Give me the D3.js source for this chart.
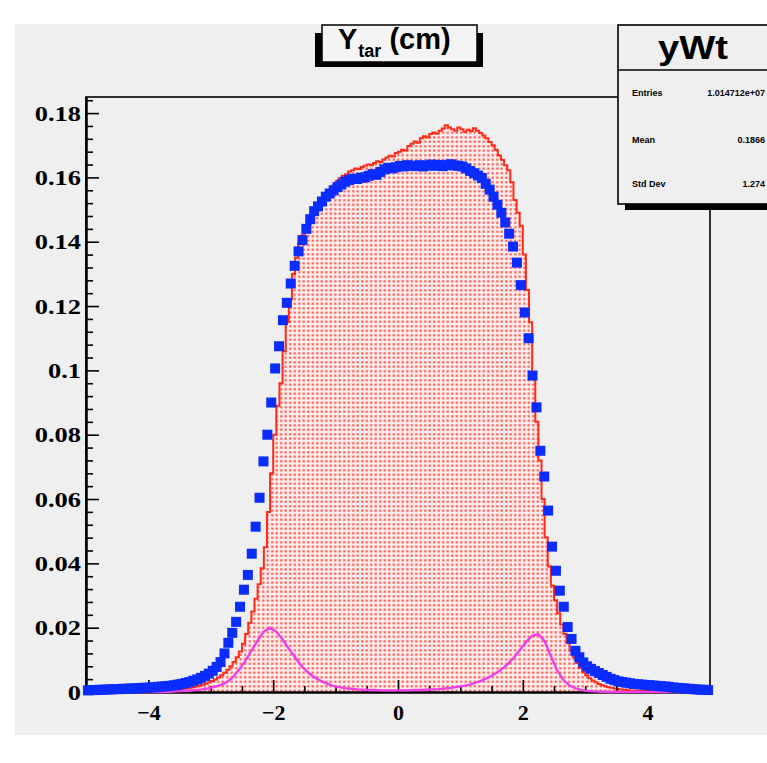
<!DOCTYPE html>
<html><head><meta charset="utf-8">
<script src="https://cdn.jsdelivr.net/npm/d3@7"></script>
<style>body{margin:0;background:#fff}</style>
</head><body><svg id="c" width="767" height="763"></svg>
<script>
// ---- data ----
const xRange = [-5, 5];
const yMax = 0.185;
// red filled histogram, 200 bins of 0.05 from -5 to 5
const redVals = [
0,0,0,0,0,0,0,0,0,0,
0.0001,0.0001,0.0001,0.0001,0.0001,0.0001,0.0001,0.0001,0.0002,0.0002,
0.0002,0.0003,0.0003,0.0004,0.0004,0.0005,0.0006,0.0006,0.0007,0.0008,
0.0009,0.0010,0.0011,0.0013,0.0015,0.0017,0.0020,0.0023,0.0026,0.0030,
0.0034,0.0039,0.0045,0.0052,0.0060,0.0069,0.0080,0.0093,0.0108,0.0126,
0.0150,0.0180,0.0215,0.0250,0.0290,0.0335,0.0385,0.0450,0.0560,0.0680,
0.0800,0.0890,0.0960,0.1060,0.1150,0.1220,0.1300,0.1350,0.1395,0.1420,
0.1440,0.1455,0.1470,0.1485,0.1500,0.1515,0.1530,0.1545,0.1560,0.1575,
0.1588,0.1598,0.1605,0.1610,0.1618,0.1622,0.1628,0.1626,0.1632,0.1636,
0.1640,0.1638,0.1645,0.1650,0.1648,0.1656,0.1662,0.1667,0.1665,0.1676,
0.1680,0.1686,0.1684,0.1698,0.1705,0.1712,0.1708,0.1722,0.1728,0.1724,
0.1735,0.1740,0.1736,0.1745,0.1752,0.1762,0.1755,0.1750,0.1745,0.1755,
0.1750,0.1742,0.1748,0.1744,0.1753,0.1745,0.1738,0.1730,0.1722,0.1710,
0.1700,0.1686,0.1668,0.1655,0.1638,0.1622,0.1585,0.1530,0.1490,0.1450,
0.1360,0.1250,0.1150,0.0980,0.0840,0.0720,0.0600,0.0480,0.0390,0.0330,
0.0285,0.0245,0.0210,0.0180,0.0152,0.0128,0.0108,0.0090,0.0075,0.0062,
0.0052,0.0043,0.0036,0.0030,0.0025,0.0021,0.0018,0.0015,0.0013,0.0011,
0.0009,0.0008,0.0007,0.0006,0.0005,0.0004,0.0004,0.0003,0.0003,0.0003,
0.0002,0.0002,0.0002,0.0002,0.0001,0.0001,0.0001,0.0001,0.0001,0.0001,
0.0001,0,0,0,0,0,0,0,0,0
];
// blue markers, 160 bins of 0.0625
const blueVals = [
0.0005,0.0006,0.0006,0.0007,0.0007,0.0008,0.0008,0.0009,0.0009,0.0010,
0.0010,0.0011,0.0011,0.0012,0.0013,0.0013,0.0014,0.0015,0.0016,0.0017,
0.0018,0.0019,0.0021,0.0023,0.0025,0.0028,0.0031,0.0035,0.0039,0.0044,
0.0050,0.0057,0.0066,0.0078,0.0093,0.0120,0.0153,0.0184,0.0218,0.0265,
0.0318,0.0364,0.0430,0.0514,0.0604,0.0717,0.0800,0.0900,0.1006,0.1075,
0.1156,0.1210,0.1270,0.1325,0.1370,0.1405,0.1440,0.1470,0.1495,0.1510,
0.1525,0.1540,0.1550,0.1560,0.1570,0.1578,0.1587,0.1592,0.1596,0.1595,
0.1599,0.1600,0.1605,0.1610,0.1608,0.1617,0.1625,0.1630,0.1628,0.1632,
0.1636,0.1634,0.1638,0.1636,0.1635,0.1638,0.1634,0.1637,0.1640,0.1636,
0.1639,0.1635,0.1638,0.1641,0.1637,0.1636,0.1634,0.1628,0.1620,0.1613,
0.1606,0.1598,0.1580,0.1562,0.1540,0.1515,0.1490,0.1460,0.1425,0.1385,
0.1335,0.1265,0.1180,0.1100,0.0984,0.0885,0.0750,0.0670,0.0564,0.0452,
0.0377,0.0315,0.0265,0.0202,0.0165,0.0128,0.0108,0.0092,0.0080,0.0072,
0.0065,0.0059,0.0053,0.0047,0.0041,0.0037,0.0033,0.0031,0.0029,0.0027,
0.0025,0.0024,0.0023,0.0022,0.0021,0.0020,0.0019,0.0018,0.0017,0.0016,
0.0014,0.0013,0.0012,0.0011,0.0010,0.0009,0.0008,0.0007,0.0007,0.0006
];
// magenta line, 100 bins of 0.1
const magVals = [
0,0,0,0,0,0,0,0,0,0,
0,0,0,0.0001,0.0002,0.0003,0.0004,0.0006,0.0008,0.0011,
0.0015,0.0021,0.0030,0.0045,0.0068,0.0095,0.0128,0.0160,0.0188,0.0200,
0.0188,0.0163,0.0135,0.0108,0.0082,0.0062,0.0047,0.0036,0.0027,0.0020,
0.0015,0.0012,0.0010,0.0008,0.0007,0.0006,0.0006,0.0005,0.0005,0.0005,
0.0005,0.0005,0.0006,0.0006,0.0007,0.0008,0.0009,0.0011,0.0013,0.0016,
0.0019,0.0023,0.0029,0.0036,0.0045,0.0056,0.0069,0.0085,0.0105,0.0130,
0.0155,0.0175,0.0180,0.0158,0.0112,0.0068,0.0038,0.0020,0.0011,0.0006,
0.0003,0.0002,0.0001,0,0,0,0,0,0,0,
0,0,0,0,0,0,0,0,0,0
];
const xTicks = [-4, -2, 0, 2, 4];
const xTickLabels = ["\u22124", "\u22122", "0", "2", "4"];
const yTicks = [0, 0.02, 0.04, 0.06, 0.08, 0.1, 0.12, 0.14, 0.16, 0.18];
const yTickLabels = ["0", "0.02", "0.04", "0.06", "0.08", "0.1", "0.12", "0.14", "0.16", "0.18"];
const statsName = "yWt";
const statsLabels = ["Entries", "Mean", "Std Dev"];
const statsValues = ["1.014712e+07", "0.1866", "1.274"];

// ---- drawing ----
const svg = d3.select("#c");
const W = 767, H = 763;
const x = d3.scaleLinear().domain(xRange).range([86, 710]);
const y = d3.scaleLinear().domain([0, yMax]).range([692, 97]);

svg.append("rect").attr("x", 15).attr("y", 24).attr("width", W - 15).attr("height", 711).attr("fill", "#efefef");

const defs = svg.append("defs");
const pat = defs.append("pattern").attr("id", "dots").attr("patternUnits", "userSpaceOnUse")
  .attr("width", 4.5).attr("height", 4.5);
pat.append("rect").attr("width", 4.5).attr("height", 4.5).attr("fill", "#fdeeed");
pat.append("rect").attr("x", 1.2).attr("y", 1.2).attr("width", 2.1).attr("height", 2.1).attr("fill", "#ff4a40");

// frame
svg.append("rect").attr("x", x(-5)).attr("y", y(yMax)).attr("width", x(5) - x(-5)).attr("height", y(0) - y(yMax))
  .attr("fill", "none").attr("stroke", "#000").attr("stroke-width", 1.6);

// red histogram
const rw = (xRange[1] - xRange[0]) / redVals.length;
const redPts = redVals.map((v, i) => [xRange[0] + i * rw, v]);
redPts.push([xRange[1], redVals[redVals.length - 1]]);
const area = d3.area().x(d => x(d[0])).y0(y(0)).y1(d => y(d[1])).curve(d3.curveStepAfter);
svg.append("path").datum(redPts).attr("d", area).attr("fill", "url(#dots)");
const rline = d3.line().x(d => x(d[0])).y(d => y(d[1])).curve(d3.curveStepAfter);
svg.append("path").datum(redPts).attr("d", rline).attr("fill", "none").attr("stroke", "#ff2a1a").attr("stroke-width", 2);

// axes
const serif = "'Liberation Serif','Times New Roman',serif";
const xMinor = d3.range(-4.5, 5, 0.5).filter(v => Math.abs(v % 2) > 1e-9);
svg.append("g").attr("transform", `translate(0,${y(0)})`)
  .call(d3.axisBottom(x).tickValues(xMinor).tickSize(-6).tickSizeOuter(0).tickFormat(""));
const gx = svg.append("g").attr("transform", `translate(0,${y(0)})`)
  .call(d3.axisBottom(x).tickValues(xTicks).tickSize(-12).tickSizeOuter(0)
    .tickFormat((d, i) => xTickLabels[i]));
gx.selectAll("text").attr("font-family", serif).attr("font-weight", "bold").attr("font-size", 22)
  .attr("fill", "#000").attr("dy", "0.32em").attr("y", 21);
const yMinor = d3.range(0, 0.1841, 0.004).filter(v => Math.abs(Math.round(v / 0.02) * 0.02 - v) > 1e-6);
svg.append("g").attr("transform", `translate(${x(-5)},0)`)
  .call(d3.axisLeft(y).tickValues(yMinor).tickSize(-7).tickSizeOuter(0).tickFormat(""));
const gy = svg.append("g").attr("transform", `translate(${x(-5)},0)`)
  .call(d3.axisLeft(y).tickValues(yTicks).tickSize(-13).tickSizeOuter(0).tickFormat((d, i) => yTickLabels[i]));
gy.selectAll("text").attr("font-family", serif).attr("font-weight", "bold").attr("font-size", 22)
  .attr("fill", "#000").attr("x", null).attr("transform", "translate(-5,0) scale(1.2,1)");
svg.selectAll(".domain").attr("stroke-width", 2);
svg.selectAll(".tick line").attr("stroke-width", 1.6);

// magenta line
const mw = (xRange[1] - xRange[0]) / magVals.length;
svg.append("path").datum(magVals.map((v, i) => [xRange[0] + (i + 0.5) * mw, v]))
  .attr("d", d3.line().x(d => x(d[0])).y(d => y(d[1])))
  .attr("fill", "none").attr("stroke", "#f03ee8").attr("stroke-width", 2.4);

// blue markers
const bw = (xRange[1] - xRange[0]) / blueVals.length;
const ms = 10;
svg.append("g").selectAll("rect").data(blueVals).join("rect")
  .attr("x", (v, i) => x(xRange[0] + (i + 0.5) * bw) - ms / 2)
  .attr("y", v => y(v) - ms / 2)
  .attr("width", ms).attr("height", ms).attr("fill", "#0a2cff");

// title box
svg.append("rect").attr("x", 315).attr("y", 33).attr("width", 168).attr("height", 34).attr("fill", "#000");
svg.append("rect").attr("x", 322).attr("y", 25).attr("width", 155).attr("height", 37)
  .attr("fill", "#f4f4f4").attr("stroke", "#000").attr("stroke-width", 1.5);
const sans = "'Liberation Sans',Arial,Helvetica,sans-serif";
const t = svg.append("text").attr("x", 338).attr("y", 49).attr("font-family", sans).attr("font-weight", "bold")
  .attr("font-size", 29).attr("fill", "#000");
t.append("tspan").text("Y");
t.append("tspan").attr("font-size", 18).attr("dy", 8).attr("dx", 1).text("tar");
t.append("tspan").attr("dy", -8).text(" (cm)");

// stats box
svg.append("rect").attr("x", 625).attr("y", 30).attr("width", 160).attr("height", 180).attr("fill", "#000");
svg.append("rect").attr("x", 618).attr("y", 25).attr("width", 160).attr("height", 179)
  .attr("fill", "#efefef").attr("stroke", "#000").attr("stroke-width", 1.6);
svg.append("line").attr("x1", 618).attr("x2", 767).attr("y1", 70).attr("y2", 70).attr("stroke", "#000").attr("stroke-width", 1.6);
svg.append("text").attr("x", 693).attr("y", 59).attr("text-anchor", "middle").attr("font-family", sans)
  .attr("font-weight", "bold").attr("font-size", 33).attr("textLength", 70).attr("lengthAdjust", "spacingAndGlyphs")
  .attr("fill", "#000").text(statsName);
const rowsY = [96, 143, 187];
statsLabels.forEach((l, i) => {
  svg.append("text").attr("x", 632).attr("y", rowsY[i]).attr("font-family", sans).attr("font-weight", "bold")
    .attr("font-size", 9).attr("fill", "#000").text(l);
  svg.append("text").attr("x", 765).attr("y", rowsY[i]).attr("text-anchor", "end").attr("font-family", sans)
    .attr("font-weight", "bold").attr("font-size", 9).attr("fill", "#000").text(statsValues[i]);
});
</script>
</body></html>
